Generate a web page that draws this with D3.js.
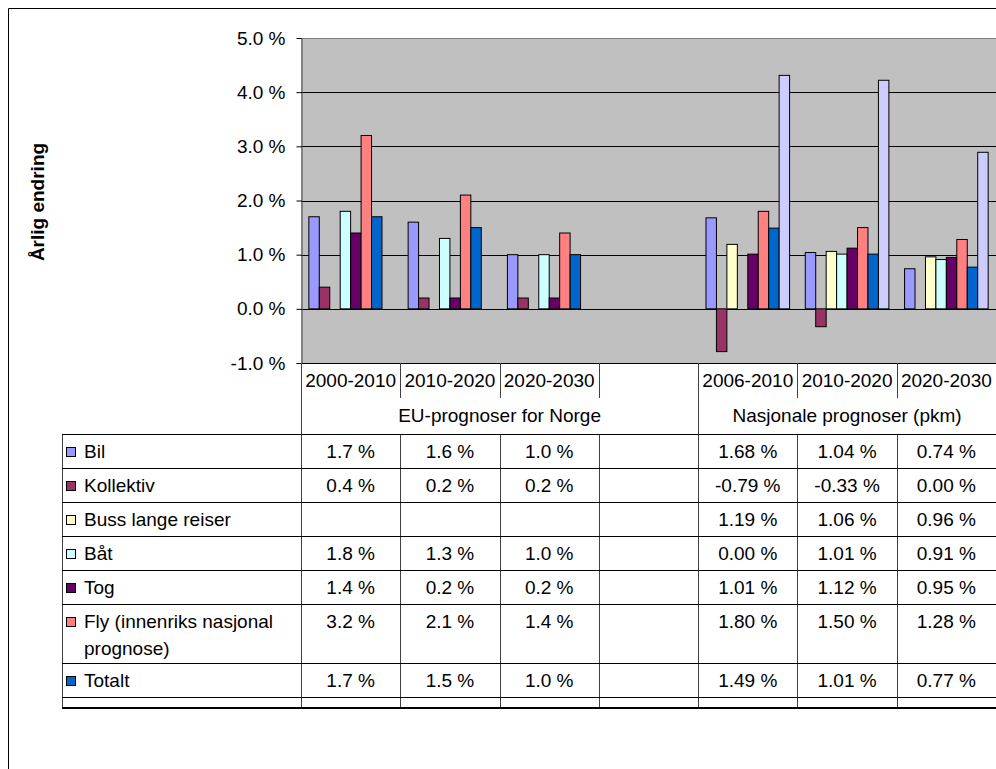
<!DOCTYPE html>
<html>
<head>
<meta charset="utf-8">
<script src="https://cdn.jsdelivr.net/npm/d3@7"></script>
<style>
  body { margin: 0; background: #ffffff; }
  svg { display: block; font-family: "Liberation Sans", Arial, sans-serif; }
</style>
</head>
<body>
<svg id="chart" width="996" height="769"></svg>
<script>

// categories on the x axis (the empty one is the spacer column)
var categories = [ "2000-2010", "2010-2020", "2020-2030", "", "2006-2010", "2010-2020", "2020-2030" ];
var groups = [ "EU-prognoser for Norge", "Nasjonale prognoser (pkm)" ];
var groupOfCategory = [ 0, 0, 0, 0, 1, 1, 1 ];
var decimalsByGroup = [ 1, 2 ];

var seriesNames = [ "Bil", "Kollektiv", "Buss lange reiser", "Båt", "Tog",
                    "Fly (innenriks nasjonal prognose)", "Totalt", "Fly (utenriks)" ];
var seriesColors = [ "#9999ff", "#993366", "#ffffcc", "#ccffff", "#660066", "#ff8080", "#0066cc", "#ccccff" ];

// null = empty cell
var bil       = [ 1.7, 1.6, 1.0, null,  1.68,  1.04, 0.74 ];
var kollektiv = [ 0.4, 0.2, 0.2, null, -0.79, -0.33, 0.00 ];
var buss      = [ null, null, null, null, 1.19, 1.06, 0.96 ];
var baat      = [ 1.8, 1.3, 1.0, null,  0.00,  1.01, 0.91 ];
var tog       = [ 1.4, 0.2, 0.2, null,  1.01,  1.12, 0.95 ];
var fly       = [ 3.2, 2.1, 1.4, null,  1.80,  1.50, 1.28 ];
var totalt    = [ 1.7, 1.5, 1.0, null,  1.49,  1.01, 0.77 ];
var flyUt     = [ null, null, null, null, 4.31, 4.22, 2.89 ];
var seriesValues = [ bil, kollektiv, buss, baat, tog, fly, totalt, flyUt ];

var yTicks = [ -1, 0, 1, 2, 3, 4, 5 ];


var fontSize = 19;
var plotLeft = 301, plotRight = 996, plotTop = 38, plotBottom = 363;
var tableLeft = 62, tableTop = 434, tableBottom = 708;
var catRowBottom = 398;

var svg = d3.select( "#chart" );

var x0 = d3.scaleBand()
    .domain( d3.range( categories.length ) )
    .range( [ plotLeft, plotRight ] );
var barW = x0.bandwidth() / ( seriesNames.length + 1.5 );   // excel gap width 150
var x1 = d3.scaleBand()
    .domain( d3.range( seriesNames.length ) )
    .range( [ barW * 0.75, barW * 0.75 + barW * seriesNames.length ] );
var y = d3.scaleLinear()
    .domain( [ d3.min( yTicks ), d3.max( yTicks ) ] )
    .range( [ plotBottom, plotTop ] );

// outer chart frame
svg.append( "path" )
    .attr( "d", "M8.5,769 V8.5 H996" )
    .attr( "fill", "none" )
    .attr( "stroke", "#000" );

// plot area
svg.append( "rect" )
    .attr( "x", plotLeft ).attr( "y", plotTop )
    .attr( "width", plotRight - plotLeft ).attr( "height", plotBottom - plotTop )
    .attr( "fill", "#c0c0c0" );

svg.append( "g" )
    .selectAll( "line" )
    .data( yTicks )
    .join( "line" )
      .attr( "x1", plotLeft ).attr( "x2", plotRight )
      .attr( "y1", function( d ) { return Math.round( y( d ) ) + 0.5; } )
      .attr( "y2", function( d ) { return Math.round( y( d ) ) + 0.5; } )
      .attr( "stroke", function( d ) { return d == d3.max( yTicks ) ? "#808080" : "#000"; } );

var bars = [];
seriesValues.forEach( function( vals, s ) {
    vals.forEach( function( v, c ) {
        if ( v != null && v != 0 ) { bars.push( { s: s, c: c, v: v } ); }
    });
});

svg.append( "g" )
    .selectAll( "rect" )
    .data( bars )
    .join( "rect" )
      .attr( "x", function( d ) { return x0( d.c ) + x1( d.s ); } )
      .attr( "width", barW )
      .attr( "y", function( d ) { return Math.min( y( d.v ), y( 0 ) ); } )
      .attr( "height", function( d ) { return Math.abs( y( d.v ) - y( 0 ) ); } )
      .attr( "fill", function( d ) { return seriesColors[ d.s ]; } )
      .attr( "stroke", "#000" )
      .attr( "stroke-width", 1 );

// value axis (plain hyphen for the minus, like excel)
var yAxis = svg.append( "g" )
    .attr( "transform", "translate(" + ( plotLeft + 0.5 ) + ",0)" )
    .call( d3.axisLeft( y )
        .tickValues( yTicks )
        .tickSize( 5 ).tickSizeOuter( 0 ).tickPadding( 11 )
        .tickFormat( function( d ) { return d.toFixed( 1 ) + " %"; } ) );
yAxis.select( ".domain" ).attr( "stroke", "#404040" );
yAxis.selectAll( ".tick line" ).attr( "stroke", "#000" );
yAxis.selectAll( "text" )
    .attr( "fill", "#000" )
    .style( "font-size", fontSize + "px" )
    .style( "font-family", "'Liberation Sans', Arial, sans-serif" );

svg.append( "text" )
    .text( "Årlig endring" )
    .attr( "transform", "translate(44,202) rotate(-90)" )
    .style( "font-size", fontSize + "px" )
    .style( "font-weight", "bold" )
    .style( "text-anchor", "middle" );

// data table under the chart
var table = svg.append( "g" ).attr( "clip-path", "url(#tableClip)" );
svg.append( "clipPath" ).attr( "id", "tableClip" )
  .append( "rect" ).attr( "x", 0 ).attr( "y", 0 ).attr( "width", 996 ).attr( "height", tableBottom );

var vline = function( x, ya, yb, color ) {
    table.append( "line" )
      .attr( "x1", Math.round( x ) + 0.5 ).attr( "x2", Math.round( x ) + 0.5 )
      .attr( "y1", ya ).attr( "y2", yb )
      .attr( "stroke", color || "#404040" );
};
var hline = function( yy, xa, xb ) {
    table.append( "line" )
      .attr( "x1", xa ).attr( "x2", xb )
      .attr( "y1", yy + 0.5 ).attr( "y2", yy + 0.5 )
      .attr( "stroke", "#000" );
};

// category labels + group labels
table.selectAll( "text.cat" )
    .data( categories )
    .join( "text" )
      .attr( "class", "cat" )
      .text( function( d ) { return d; } )
      .attr( "x", function( d, i ) { return x0( i ) + x0.bandwidth() / 2; } )
      .attr( "y", 387 )
      .style( "font-size", fontSize + "px" )
      .style( "text-anchor", "middle" );

groups.forEach( function( g, gi ) {
    var idx = d3.range( categories.length ).filter( function( i ) { return groupOfCategory[ i ] == gi; } );
    var xa = x0( d3.min( idx ) ), xb = x0( d3.max( idx ) ) + x0.bandwidth();
    table.append( "text" )
      .text( g )
      .attr( "x", ( xa + xb ) / 2 )
      .attr( "y", 422 )
      .style( "font-size", fontSize + "px" )
      .style( "text-anchor", "middle" );
});

vline( plotLeft, plotBottom, tableBottom );
d3.range( 1, categories.length ).forEach( function( i ) {
    var x = x0( i );
    if ( groupOfCategory[ i ] != groupOfCategory[ i - 1 ] ) {
        vline( x, plotBottom, tableBottom );
    } else {
        vline( x, plotBottom, catRowBottom );
        vline( x, tableTop, tableBottom );
    }
});
vline( tableLeft, tableTop, tableBottom );

// rows
var rowTop = tableTop;
hline( rowTop, tableLeft, plotRight );
seriesNames.forEach( function( name, s ) {
    var words = name.split( " " ), lines = [ ], cur = "";
    var probe = svg.append( "text" ).style( "font-size", fontSize + "px" );
    words.forEach( function( w ) {
        var test = cur ? cur + " " + w : w;
        probe.text( test );
        if ( cur && probe.node().getComputedTextLength() > 205 ) { lines.push( cur ); cur = w; }
        else { cur = test; }
    });
    lines.push( cur );
    probe.remove();

    var h = 34 + 25 * ( lines.length - 1 );
    var base = rowTop + 24;

    table.append( "rect" )
      .attr( "x", 66.5 ).attr( "y", base - 10.5 )
      .attr( "width", 9 ).attr( "height", 9 )
      .attr( "fill", seriesColors[ s ] )
      .attr( "stroke", "#000" );
    lines.forEach( function( ln, li ) {
        table.append( "text" )
          .text( ln )
          .attr( "x", 84 ).attr( "y", base + li * 27 )
          .style( "font-size", fontSize + "px" );
    });

    seriesValues[ s ].forEach( function( v, c ) {
        if ( v == null ) { return; }
        var dec = decimalsByGroup[ groupOfCategory[ c ] ];
        table.append( "text" )
          .text( v.toFixed( dec ) + " %" )
          .attr( "x", x0( c ) + x0.bandwidth() / 2 )
          .attr( "y", base )
          .style( "font-size", fontSize + "px" )
          .style( "text-anchor", "middle" );
    });

    rowTop += h;
    hline( rowTop, tableLeft, plotRight );
});

svg.append( "line" )
    .attr( "x1", tableLeft ).attr( "x2", plotRight )
    .attr( "y1", tableBottom ).attr( "y2", tableBottom )
    .attr( "stroke", "#000" ).attr( "stroke-width", 2 );

</script>
</body>
</html>
